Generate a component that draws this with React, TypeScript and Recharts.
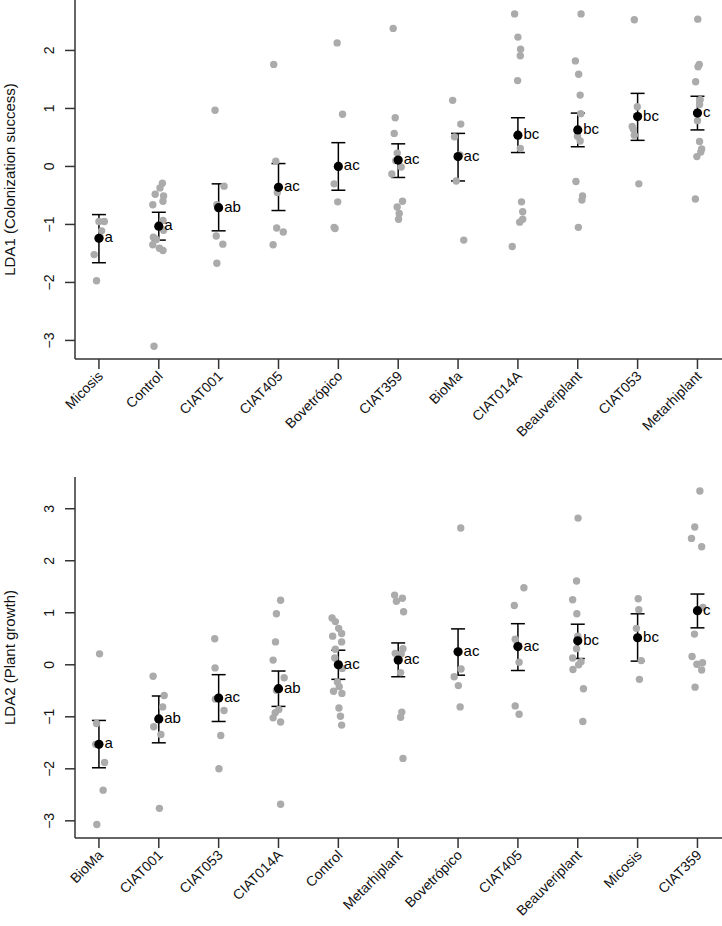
import { ScatterChart, Scatter, XAxis, YAxis, ErrorBar } from 'recharts';

// ---- LDA1 (colonization success) ----
const lda1Groups = ['Micosis', 'Control', 'CIAT001', 'CIAT405', 'Bovetrópico', 'CIAT359', 'BioMa', 'CIAT014A', 'Beauveriplant', 'CIAT053', 'Metarhiplant'];
const lda1Means = [-1.24, -1.03, -0.71, -0.36, 0.0, 0.11, 0.17, 0.54, 0.63, 0.86, 0.92];
const lda1Lower = [-1.66, -1.27, -1.11, -0.76, -0.41, -0.19, -0.25, 0.24, 0.34, 0.45, 0.63];
const lda1Upper = [-0.83, -0.79, -0.3, 0.05, 0.41, 0.39, 0.57, 0.84, 0.92, 1.26, 1.21];
const lda1Letters = ['a', 'a', 'ab', 'ac', 'ac', 'ac', 'ac', 'bc', 'bc', 'bc', 'c'];
const lda1Values = [
  [-0.95, -0.95, -1.11, -1.52, -1.97, -1.22],
  [-0.29, -0.37, -0.48, -0.51, -0.6, -0.66, -0.93, -1.1, -1.22, -1.26, -1.35, -1.41, -1.45, -3.1],
  [0.97, -0.34, -0.66, -1.2, -1.34, -1.67],
  [1.76, 0.09, -0.45, -1.06, -1.13, -1.35],
  [2.13, 0.9, -0.3, -0.61, -1.05, -1.07],
  [2.38, 0.84, 0.57, 0.23, 0.1, -0.01, -0.13, -0.6, -0.7, -0.81, -0.91],
  [1.14, 0.73, 0.51, 0.2, -0.25, -1.27],
  [2.63, 2.23, 2.02, 1.91, 1.48, 0.31, -0.61, -0.78, -0.91, -0.96, -1.38],
  [2.63, 1.82, 1.59, 1.23, 0.91, 0.52, 0.44, -0.26, -0.51, -0.58, -1.05],
  [2.53, 1.03, 0.69, 0.64, 0.54, -0.3],
  [2.54, 1.76, 1.72, 1.46, 1.15, 1.07, 0.79, 0.43, 0.3, 0.25, 0.17, -0.56],
];
// horizontal jitter, in category units
const lda1Jitter = [
  [0.09, 0.0, 0.045, -0.08, -0.04, 0.02],
  [0.06, 0.02, -0.06, 0.08, 0.07, -0.1, 0.07, 0.08, -0.09, -0.04, -0.1, 0.01, 0.07, -0.08],
  [-0.06, 0.09, -0.03, -0.04, 0.07, -0.03],
  [-0.08, -0.045, -0.02, -0.03, 0.08, -0.09],
  [-0.02, 0.07, -0.07, -0.01, -0.07, -0.055],
  [-0.084, -0.05, -0.067, -0.017, -0.04, 0.05, -0.106, 0.072, -0.017, 0.017, 0.006],
  [-0.09, 0.045, -0.06, 0.03, -0.03, 0.095],
  [-0.055, 0, 0.045, 0.04, -0.005, 0.04, 0.06, 0.08, 0.08, 0.03, -0.095],
  [0.055, -0.04, 0.015, 0.04, 0.05, -0.005, 0.04, -0.03, 0.08, 0.07, 0.01],
  [-0.055, -0.005, -0.09, -0.07, -0.055, 0.02],
  [0.005, 0.03, 0.01, -0.03, 0.045, 0.035, 0, 0.035, 0.07, 0.055, -0.01, -0.035],
];
const lda1Ticks = [-3, -2, -1, 0, 1, 2];

// ---- LDA2 (plant growth) ----
const lda2Groups = ['BioMa', 'CIAT001', 'CIAT053', 'CIAT014A', 'Control', 'Metarhiplant', 'Bovetrópico', 'CIAT405', 'Beauveriplant', 'Micosis', 'CIAT359'];
const lda2Means = [-1.53, -1.04, -0.64, -0.46, 0.0, 0.09, 0.25, 0.35, 0.46, 0.52, 1.04];
const lda2Lower = [-1.98, -1.5, -1.09, -0.8, -0.28, -0.23, -0.2, -0.11, 0.12, 0.07, 0.71];
const lda2Upper = [-1.07, -0.6, -0.19, -0.12, 0.28, 0.42, 0.69, 0.79, 0.78, 0.98, 1.36];
const lda2Letters = ['a', 'ab', 'ac', 'ab', 'ac', 'ac', 'ac', 'ac', 'bc', 'bc', 'c'];
const lda2Values = [
  [0.21, -1.13, -1.53, -1.88, -2.41, -3.07],
  [-0.22, -0.59, -0.81, -1.19, -1.34, -2.76],
  [0.5, -0.06, -0.66, -0.88, -1.36, -2.0],
  [1.24, 0.98, 0.44, 0.09, -0.25, -0.49, -0.86, -0.92, -1.02, -1.1, -2.68],
  [0.9, 0.83, 0.7, 0.6, 0.55, 0.44, 0.3, 0.13, -0.07, -0.33, -0.42, -0.51, -0.55, -0.83, -0.99, -1.16],
  [1.34, 1.22, 1.28, 1.02, 0.31, 0.22, 0.21, -0.15, -0.91, -1.01, -1.8],
  [2.63, -0.08, -0.23, -0.4, -0.81],
  [1.48, 1.14, 0.49, 0.05, -0.79, -0.95],
  [2.82, 1.61, 1.25, 0.98, 0.55, 0.31, 0.13, 0.06, 0.0, -0.09, -0.46, -1.09],
  [1.27, 1.06, 0.7, 0.08, -0.28],
  [3.34, 2.65, 2.43, 2.27, 1.1, 0.59, 0.16, 0.04, 0.01, -0.1, -0.43],
];
const lda2Jitter = [
  [0.01, -0.04, -0.055, 0.095, 0.07, -0.035],
  [-0.095, 0.09, 0.065, -0.085, 0.035, 0.01],
  [-0.065, -0.06, -0.055, 0.09, 0.035, 0.005],
  [0.035, -0.035, -0.05, -0.09, 0.095, -0.035, 0.005, -0.055, -0.09, 0.035, 0.035],
  [-0.105, -0.05, 0.005, 0.055, -0.095, 0.055, -0.05, -0.06, 0.065, -0.015, 0.015, -0.08, 0.06, 0.01, 0.035, 0.055],
  [-0.06, -0.03, 0.07, 0.09, 0.08, -0.05, 0.05, 0.04, 0.06, 0.04, 0.08],
  [0.045, 0.05, -0.065, 0.005, 0.035],
  [0.1, -0.06, -0.045, 0.02, -0.045, 0.02],
  [0.005, -0.02, -0.085, -0.015, 0, -0.02, -0.085, 0.055, 0.015, -0.08, 0.095, 0.085],
  [0.01, 0.02, -0.02, 0.06, 0.03],
  [0.04, -0.045, -0.1, 0.07, 0.09, -0.05, -0.09, 0.085, -0.01, 0.07, -0.04],
];
const lda2Ticks = [-3, -2, -1, 0, 1, 2, 3];

const FONT = '"Liberation Sans", Arial, sans-serif';
const AXIS = '#333';

const renderXTick = (groups: string[]) => (props: any) => {
  const px = Number(props.x) + 5;
  const py = Number(props.y) + 8;
  return (
    <text
      x={px}
      y={py}
      transform={`rotate(-45 ${px} ${py})`}
      textAnchor="end"
      fontSize={14}
      fill="#111"
      fontFamily={FONT}
    >
      {groups[props.payload.value - 1]}
    </text>
  );
};

const renderYTick = (props: any) => {
  const px = Number(props.x) - 11;
  const py = Number(props.y);
  return (
    <text
      x={px}
      y={py}
      transform={`rotate(-90 ${px} ${py})`}
      textAnchor="middle"
      fontSize={14}
      fill="#111"
      fontFamily={FONT}
    >
      {String(props.payload.value).replace('-', '\u2212')}
    </text>
  );
};

const GreyDot = ({ cx, cy }: any) => <circle cx={cx} cy={cy} r={3.7} fill="#ababab" />;

const MeanDot = ({ cx, cy, payload }: any) => (
  <g>
    <circle cx={cx} cy={cy} r={4.6} fill="#000" />
    <text x={cx + 5.5} y={cy + 4} fontSize={15} fill="#000" fontFamily={FONT}>
      {payload.letter}
    </text>
  </g>
);

function Panel({ groups, values, jitter, means, lower, upper, letters, yTicks, yDomain, yLabel, height, top, xAxisHeight }: any) {
  const points = values.flatMap((vals: number[], i: number) =>
    vals.map((v, j) => ({ x: i + 1 + jitter[i][j], y: v }))
  );
  const meanData = means.map((m: number, i: number) => ({
    x: i + 1,
    y: m,
    err: [m - lower[i], upper[i] - m],
    letter: letters[i],
  }));
  const midY = top + (height - top - xAxisHeight) / 2;
  return (
    <div style={{ position: 'relative', width: 722, height }}>
      <ScatterChart width={722} height={height} margin={{ top, right: 0, bottom: 0, left: 0 }}>
        <XAxis
          type="number"
          dataKey="x"
          domain={[0.6, 11.41]}
          ticks={groups.map((_: string, i: number) => i + 1)}
          interval={0}
          allowDataOverflow
          height={xAxisHeight}
          tickSize={10}
          tickMargin={0}
          axisLine={{ stroke: AXIS, strokeWidth: 1.5 }}
          tickLine={{ stroke: AXIS, strokeWidth: 1.5 }}
          tick={renderXTick(groups)}
        />
        <YAxis
          type="number"
          dataKey="y"
          domain={yDomain}
          ticks={yTicks}
          interval={0}
          allowDataOverflow
          width={75}
          tickSize={10}
          tickMargin={0}
          axisLine={{ stroke: AXIS, strokeWidth: 1.5 }}
          tickLine={{ stroke: AXIS, strokeWidth: 1.5 }}
          tick={renderYTick}
        />
        <Scatter data={points} shape={<GreyDot />} isAnimationActive={false} />
        <Scatter data={meanData} shape={<MeanDot />} isAnimationActive={false}>
          <ErrorBar dataKey="err" direction="y" width={7} stroke="#000" strokeWidth={1.5} />
        </Scatter>
      </ScatterChart>
      <svg width={30} height={height} style={{ position: 'absolute', left: 0, top: 0 }}>
        <text
          x={15}
          y={midY}
          transform={`rotate(-90, 15, ${midY})`}
          textAnchor="middle"
          fontSize={15}
          fill="#111"
          fontFamily={FONT}
        >
          {yLabel}
        </text>
      </svg>
    </div>
  );
}

export default function App() {
  return (
    <div style={{ position: 'absolute', left: 0, top: 0, width: 722, height: 926, background: '#fff', overflow: 'hidden' }}>
      <Panel
        groups={lda1Groups}
        values={lda1Values}
        jitter={lda1Jitter}
        means={lda1Means}
        lower={lda1Lower}
        upper={lda1Upper}
        letters={lda1Letters}
        yTicks={lda1Ticks}
        yDomain={[-3.32, 2.87]}
        yLabel="LDA1 (Colonization success)"
        height={470}
        top={0}
        xAxisHeight={111}
      />
      <Panel
        groups={lda2Groups}
        values={lda2Values}
        jitter={lda2Jitter}
        means={lda2Means}
        lower={lda2Lower}
        upper={lda2Upper}
        letters={lda2Letters}
        yTicks={lda2Ticks}
        yDomain={[-3.33, 3.61]}
        yLabel="LDA2 (Plant growth)"
        height={456}
        top={7}
        xAxisHeight={88}
      />
    </div>
  );
}
